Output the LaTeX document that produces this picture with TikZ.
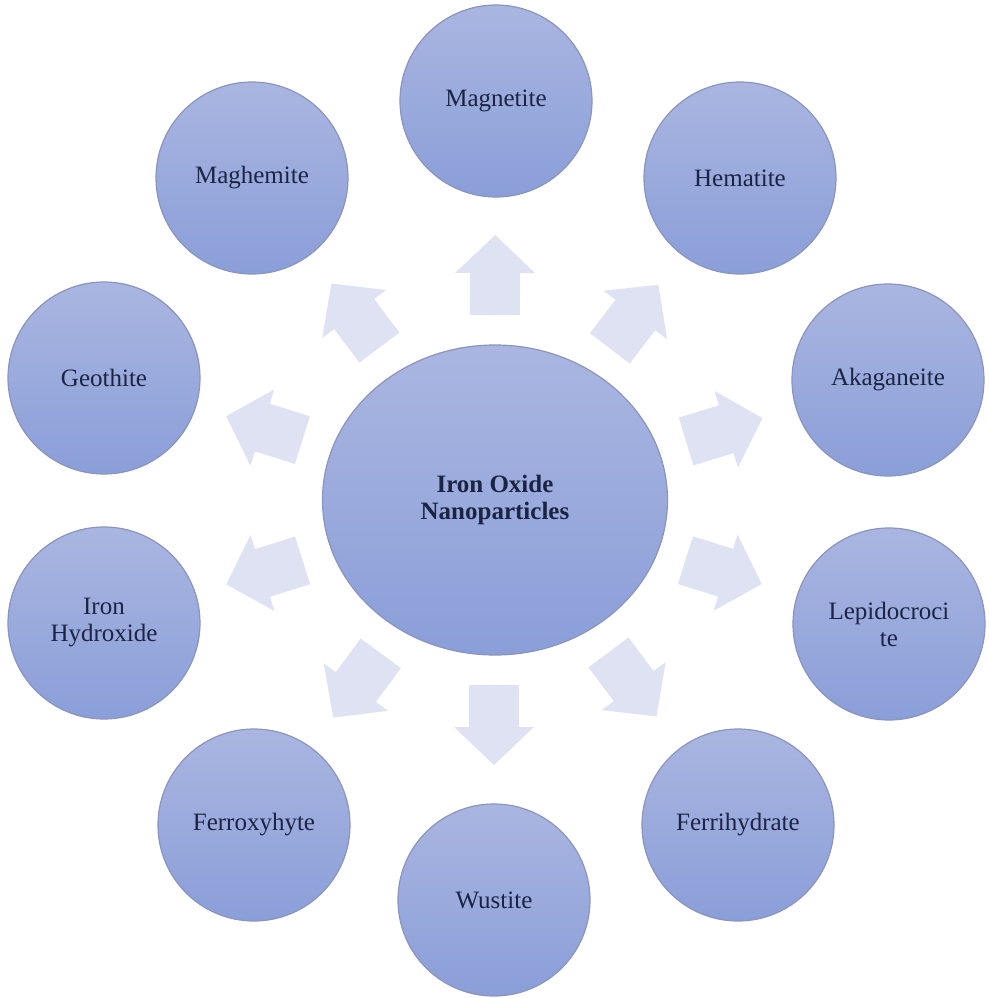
\documentclass[tikz,border=0pt]{standalone}
\usepackage{fontspec}
\setmainfont{Liberation Serif}
\usetikzlibrary{shapes.geometric}
\definecolor{ctop}{HTML}{AAB6E1}
\definecolor{cbot}{HTML}{8A9ED8}
\definecolor{cedge}{HTML}{8A94BE}
\definecolor{arrowfill}{HTML}{DEE2F3}
\definecolor{txt}{HTML}{1B2442}
\begin{document}
\begin{tikzpicture}[x=0.5pt,y=0.5pt,
  ball/.style={circle, draw=cedge, line width=0.6pt, top color=ctop, bottom color=cbot,
    minimum size=96pt, inner sep=0pt, align=center, text=txt,
    font=\fontsize{12.5}{13.5}\selectfont},
  core/.style={ellipse, draw=cedge, line width=0.6pt, top color=ctop, bottom color=cbot,
    minimum width=172.5pt, minimum height=155pt, inner sep=0pt, align=center, text=txt,
    font=\bfseries\fontsize{12.5}{13.5}\selectfont},
  blockarrow/.style={fill=arrowfill, draw=none}]
\useasboundingbox (-494,-498) rectangle (495,500);
% block arrows pointing outward
\foreach \x/\y in {2/399, 246/322, 394/120, 395/-124, 244/-325, 0/-400, -240/-325, -390/-123, -390/122, -242/322} {
  \pgfmathsetmacro\ang{atan2(\y,\x)}
  \pgfmathsetmacro\e{10*17.25*15.5/sqrt((15.5*cos(\ang))^2+(17.25*sin(\ang))^2)}
  \pgfmathsetmacro\rb{\e+30}
  \pgfmathsetmacro\rh{\e+72}
  \pgfmathsetmacro\rt{\e+110}
  \fill[blockarrow, rotate=\ang] (\rb,-25) -- (\rh,-25) -- (\rh,-40) -- (\rt,0) -- (\rh,40) -- (\rh,25) -- (\rb,25) -- cycle;
}
\node[core] (core) at (1,0) {Iron Oxide\\Nanoparticles};
\node[ball] (magnetite) at (2,399) {Magnetite};
\node[ball] (hematite) at (246,322) {Hematite};
\node[ball] (akaganeite) at (394,120) {Akaganeite};
\node[ball] (lepidocrocite) at (395,-124) {Lepidocroci\\te};
\node[ball] (ferrihydrate) at (244,-325) {Ferrihydrate};
\node[ball] (wustite) at (0,-400) {Wustite};
\node[ball] (ferroxyhyte) at (-240,-325) {Ferroxyhyte};
\node[ball] (ironhydroxide) at (-390,-123) {Iron\\Hydroxide};
\node[ball] (geothite) at (-390,122) {Geothite};
\node[ball] (maghemite) at (-242,322) {Maghemite};
\end{tikzpicture}
\end{document}
